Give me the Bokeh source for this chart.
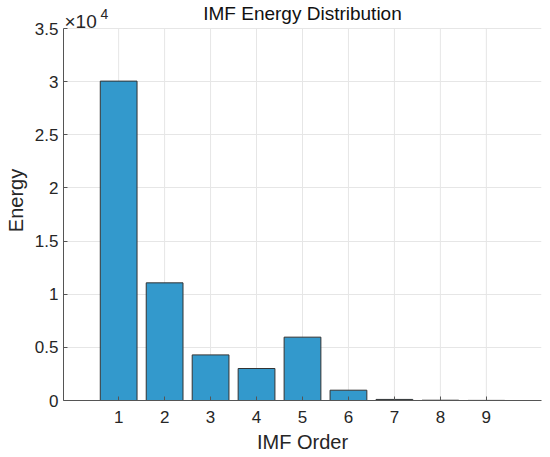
from bokeh.plotting import figure
from bokeh.models import FixedTicker, Range1d, Label, ColumnDataSource
from bokeh.embed import file_html
from bokeh.resources import INLINE

# Data
imf_order = [1, 2, 3, 4, 5, 6, 7, 8, 9]
energy = [30050, 11070, 4290, 3010, 5960, 970, 100, 25, 10]
x_ticks = [1, 2, 3, 4, 5, 6, 7, 8, 9]
y_ticks = [0, 5000, 10000, 15000, 20000, 25000, 30000, 35000]
y_tick_labels = ["0", "0.5", "1", "1.5", "2", "2.5", "3", "3.5"]
y_max = 35000
x_lo, x_hi = -0.2, 10.2

FONT = "Liberation Sans"
TXT = "#262626"

# frame extends above the axis top so that the title and exponent are drawn inside it
p = figure(frame_width=478, frame_height=400, output_backend="svg", toolbar_location=None,
           x_range=Range1d(x_lo, x_hi), y_range=Range1d(0, y_max * 400 / 372),
           min_border_left=63, min_border_right=9, min_border_top=0, min_border_bottom=57)
p.outline_line_color = None
p.background_fill_color = "white"
p.border_fill_color = "white"

# vertical grid lines, limited to the axis extent
p.segment(x0=x_ticks, y0=[0] * len(x_ticks), x1=x_ticks, y1=[y_max] * len(x_ticks),
          line_color="#e6e6e6", line_width=1)

src = ColumnDataSource(dict(x=imf_order, top=energy))
p.vbar(x="x", top="top", width=0.8, source=src, fill_color="#3399cc",
       line_color="#333333", line_width=1)

for ax in (p.xaxis[0], p.yaxis[0]):
    ax.axis_line_color = "#555555"
    ax.axis_line_width = 1
    ax.major_tick_line_color = "#555555"
    ax.major_tick_in = 4
    ax.major_tick_out = 0
    ax.minor_tick_line_color = None
    ax.major_label_text_font = FONT
    ax.major_label_text_font_size = "17px"
    ax.major_label_text_color = TXT
    ax.axis_label_text_font = FONT
    ax.axis_label_text_font_size = "20px"
    ax.axis_label_text_font_style = "normal"
    ax.axis_label_text_color = TXT

p.yaxis.bounds = (0, y_max)
p.xaxis.ticker = FixedTicker(ticks=x_ticks)
p.yaxis.ticker = FixedTicker(ticks=y_ticks)
p.yaxis.major_label_overrides = {t: l for t, l in zip(y_ticks, y_tick_labels)}
p.xaxis.axis_label = "IMF Order"
p.yaxis.axis_label = "Energy"
p.xaxis.major_label_standoff = 10
p.yaxis.major_label_standoff = 5
p.xaxis.axis_label_standoff = 5
p.yaxis.axis_label_standoff = 5

p.xgrid.visible = False
p.ygrid.ticker = FixedTicker(ticks=y_ticks)
p.ygrid.grid_line_color = "#e6e6e6"

# Title, centred over the frame
p.add_layout(Label(x=(x_lo + x_hi) / 2, y=y_max, y_offset=15, text="IMF Energy Distribution",
                   text_font=FONT, text_font_size="19px", text_color="#111111",
                   text_align="center", text_baseline="alphabetic"))
# Exponent label
p.add_layout(Label(x=x_lo, y=y_max, x_offset=1, y_offset=7, text="×10",
                   text_font=FONT, text_font_size="19px", text_color=TXT,
                   text_align="left", text_baseline="alphabetic"))
p.add_layout(Label(x=x_lo, y=y_max, x_offset=37, y_offset=15, text="4",
                   text_font=FONT, text_font_size="14px", text_color=TXT,
                   text_align="left", text_baseline="alphabetic"))

open("out.html", "w").write(file_html(p, INLINE))
